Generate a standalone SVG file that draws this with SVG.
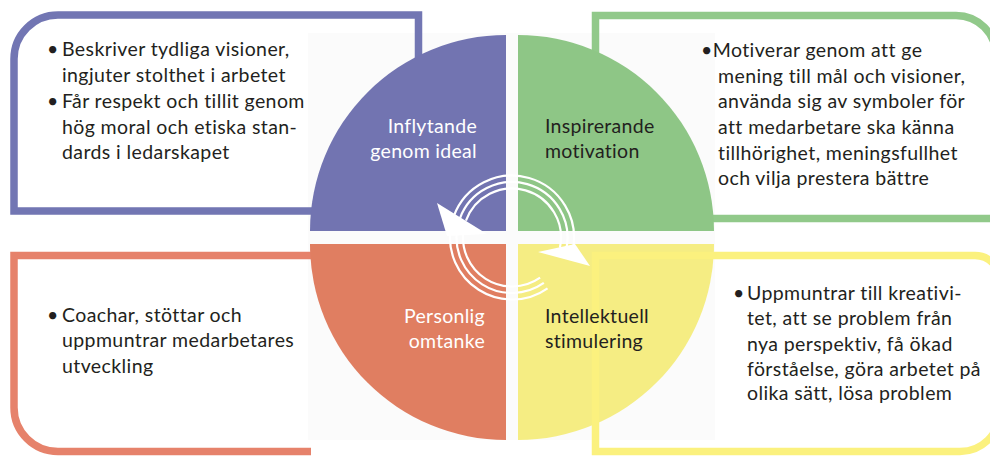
<svg xmlns="http://www.w3.org/2000/svg" width="990" height="457" viewBox="0 0 990 457">
<style>
.frame{fill:none;stroke-width:7.5;stroke-linejoin:miter}
.ring{fill:none;stroke:#ffffff;stroke-width:2.2}
.body{font-family:Lato,"Liberation Sans",sans-serif;font-size:19.5px;letter-spacing:0.4px;fill:#231f20}
.lbl{font-family:Lato,"Liberation Sans",sans-serif;font-size:19.5px;letter-spacing:0.3px}
.lw{fill:#ffffff}
.ld{fill:#231f20}
</style>
<rect x="0" y="0" width="990" height="457" fill="#ffffff"/>
<rect x="308" y="33" width="407" height="407" fill="#fbfbfb"/>
<g id="frame-purple"><path class="frame" stroke="#7276b3" d="M418.5 90 V15 H58 A44 44 0 0 0 14 59 V211 H330"/></g>
<g id="frame-green"><path class="frame" stroke="#91c98a" d="M595.5 90 V15.5 H956 A40 40 0 0 1 996 55.5 V218.5 H690"/></g>
<g id="frame-orange"><path class="frame" stroke="#e6826b" d="M330 255.5 H14 V407.5 A44 44 0 0 0 58 451.5 H311"/></g>
<g id="quad-purple"><path fill="#7274b1" d="M506 231 H310 A196 196 0 0 1 506 35 Z"/></g>
<g id="quad-green"><path fill="#8ec686" d="M518 231 V35 A196 196 0 0 1 714 231 Z"/></g>
<g id="quad-orange"><path fill="#e07e61" d="M506 244 V440 A196 196 0 0 1 310 244 Z"/></g>
<g id="quad-yellow"><path fill="#f5ed83" d="M518 244 H714 A196 196 0 0 1 518 440 Z"/></g>
<g id="frame-yellow"><path class="frame" stroke="#fbf17e" d="M595.5 451.5 V255.5 H975 A25 25 0 0 1 1000 280.5 V411.5 A40 40 0 0 1 960 451.5 Z"/></g>
<g id="connectors">
<path class="ring" d="M547.56 288.29 A62 62 0 0 1 450.94 226.73"/>
<path class="ring" d="M543.83 282.97 A55.5 55.5 0 0 1 457.34 227.86"/>
<path class="ring" d="M540.11 277.64 A49 49 0 0 1 463.74 228.99"/>
<path class="ring" d="M453.74 216.30 A62 62 0 0 1 572.64 250.39"/>
<path class="ring" d="M459.85 218.52 A55.5 55.5 0 0 1 566.29 249.04"/>
<path class="ring" d="M465.95 220.74 A49 49 0 0 1 559.93 247.69"/>
<polygon fill="#ffffff" points="437,203 447,236 487,234"/>
<polygon fill="#ffffff" points="538,252 575,244 590,266"/>
</g>
<g id="label-purple"><text class="lbl lw" text-anchor="end"><tspan x="477" y="133">Inflytande</tspan><tspan x="477" y="158">genom ideal</tspan></text></g>
<g id="label-green"><text class="lbl ld"><tspan x="545" y="133">Inspirerande</tspan><tspan x="545" y="158">motivation</tspan></text></g>
<g id="label-orange"><text class="lbl lw" text-anchor="end"><tspan x="485" y="323">Personlig</tspan><tspan x="485" y="348">omtanke</tspan></text></g>
<g id="label-yellow"><text class="lbl ld"><tspan x="545" y="323">Intellektuell</tspan><tspan x="545" y="348">stimulering</tspan></text></g>
<g id="text-purple">
<text class="body"><tspan x="47" y="56">•</tspan><tspan x="62" y="56">Beskriver tydliga visioner,</tspan></text>
<text class="body" x="62" y="82">ingjuter stolthet i arbetet</text>
<text class="body"><tspan x="47" y="108">•</tspan><tspan x="62" y="108">Får respekt och tillit genom</tspan></text>
<text class="body" x="62" y="134">hög moral och etiska stan-</text>
<text class="body" x="62" y="159">dards i ledarskapet</text>
</g>
<g id="text-green">
<text class="body" x="701" y="57">•Motiverar genom att ge</text>
<text class="body" x="718" y="82.5">mening till mål och visioner,</text>
<text class="body" x="718" y="108">använda sig av symboler för</text>
<text class="body" x="718" y="134">att medarbetare ska känna</text>
<text class="body" x="718" y="159.5">tillhörighet, meningsfullhet</text>
<text class="body" x="718" y="185">och vilja prestera bättre</text>
</g>
<g id="text-orange">
<text class="body"><tspan x="47" y="322">•</tspan><tspan x="62" y="322">Coachar, stöttar och</tspan></text>
<text class="body" x="62" y="347">uppmuntrar medarbetares</text>
<text class="body" x="62" y="373">utveckling</text>
</g>
<g id="text-yellow">
<text class="body"><tspan x="733" y="300">•</tspan><tspan x="747" y="300">Uppmuntrar till kreativi-</tspan></text>
<text class="body" x="747" y="325">tet, att se problem från</text>
<text class="body" x="747" y="351">nya perspektiv, få ökad</text>
<text class="body" x="747" y="376">förståelse, göra arbetet på</text>
<text class="body" x="747" y="400">olika sätt, lösa problem</text>
</g>
</svg>
